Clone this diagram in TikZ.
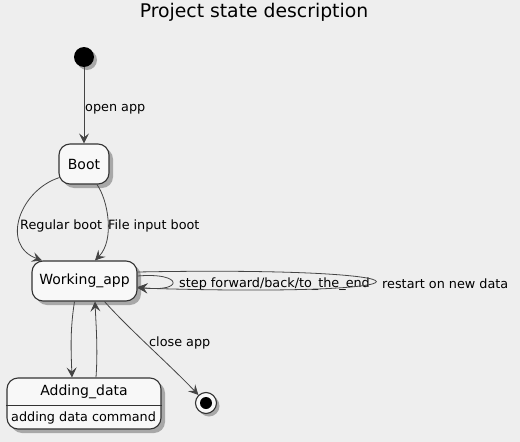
\documentclass[tikz,border=0pt]{standalone}
\usepackage{fontspec}
\setmainfont{DejaVu Sans}
\usetikzlibrary{arrows.meta,calc}
\definecolor{bg}{HTML}{EEEEEE}
\definecolor{ln}{HTML}{444444}
\definecolor{bd}{HTML}{333333}
\definecolor{fillc}{HTML}{F8F8F8}
\definecolor{shc}{HTML}{A8A8A8}
\begin{document}
\begin{tikzpicture}[x=1pt,y=-1pt,
 statebox/.style={draw=bd, line width=1.1pt, fill=fillc, rounded corners=11pt, inner sep=0pt, font=\fontsize{14}{16}\selectfont},
 shadowbox/.style={fill=shc, rounded corners=11pt, inner sep=0pt, draw=none},
 lbl/.style={font=\fontsize{12.8}{15}\selectfont, inner sep=0pt, text=black, anchor=west},
 tr/.style={draw=ln, line width=0.8pt, -{Stealth[length=10pt,width=10pt,inset=4pt]}}]
\fill[bg] (0,0) rectangle (520,442);
\useasboundingbox (0,0) rectangle (520,442);
% title
\node[font=\fontsize{18.8}{22}\selectfont, inner sep=0pt] (title) at (254,12) {Project state description};
% shadows
\fill[shc] (87,60) circle (10);
\node[shadowbox, minimum width=50pt, minimum height=40pt] at (88,168) {};
\node[shadowbox, minimum width=105pt, minimum height=40pt] at (88.5,285) {};
\node[shadowbox, minimum width=154pt, minimum height=51pt] at (88,407.5) {};
\fill[shc] (209,406) circle (10.5);
% states
\node[circle, fill=black, minimum size=20pt, inner sep=0pt] (init) at (84,57) {};
\node[statebox, minimum width=50pt, minimum height=40pt] (boot) at (84,164) {Boot};
\node[statebox, minimum width=105pt, minimum height=40pt] (work) at (84.5,281) {Working\_app};
\node[statebox, minimum width=154pt, minimum height=51pt] (adding) at (84,403.5) {};
\node[font=\fontsize{14}{16}\selectfont, inner sep=0pt] (addtitle) at (84,392) {Adding\_data};
\draw[bd, line width=0.8pt] (adding.west |- 0,405) coordinate (divl) -- (adding.east |- 0,405) coordinate (divr);
\node[lbl] (addtext) at (11,417.5) {adding data command};
\node[circle, draw=bd, line width=1.1pt, fill=fillc, minimum size=21pt, inner sep=0pt] (final) at (206,403) {};
\node[circle, fill=black, minimum size=12pt, inner sep=0pt] (finalin) at (206,403) {};
% transitions
\draw[tr] (init) -- (boot);
\node[lbl] (l1) at (85,109) {open app};
\draw[tr] ($(boot.south west)+(1,-7)$) .. controls (20,190) and (0,245) .. ($(work.north west)+(10.5,0)$);
\node[lbl] (l2) at (20,226) {Regular boot};
\draw[tr] ($(boot.south)+(13,0)$) .. controls (108,200) and (115,240) .. ($(work.north)+(10.5,0)$);
\node[lbl] (l3) at (108,226) {File input boot};
\draw[tr] ($(work.east)+(0,-5)$) .. controls (184,272) and (184,293) .. ($(work.east)+(0,6)$);
\node[lbl] (l4) at (179,284) {step forward/back/to\_the\_end};
\draw[tr] ($(work.east)+(0,-9)$) .. controls (455,266) and (455,298) .. ($(work.east)+(0,7)$);
\node[lbl] (l5) at (382,284) {restart on new data};
\draw[tr] ($(work.south)+(-10,0)$) .. controls (70,330) and (71,350) .. ($(adding.north)+(-12,0)$);
\draw[tr] ($(adding.north)+(12,0)$) .. controls (98,350) and (96,325) .. ($(work.south)+(10.5,0)$);
\draw[tr] ($(work.south)+(20,0)$) .. controls (130,330) and (170,365) .. (final);
\node[lbl] (l6) at (149,343) {close app};
\end{tikzpicture}
\end{document}
